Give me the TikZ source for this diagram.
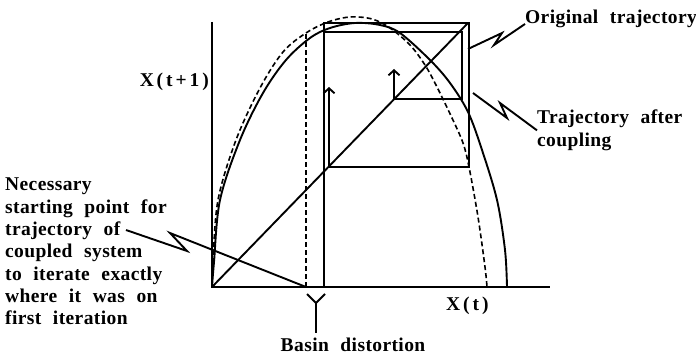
\documentclass[tikz,border=0pt]{standalone}
\usepackage{fontspec}
\setmainfont{Liberation Serif}
\newfontfamily\notefont[LetterSpace=2,WordSpace=2.2]{Liberation Serif}
\newfontfamily\axisfont[LetterSpace=15]{Liberation Serif}
\usetikzlibrary{arrows.meta}
\tikzset{
    note/.style={
        font=\notefont\bfseries\fontsize{19.5}{22.3}\selectfont,
        inner sep=0pt,
        align=left
    },
    axislabel/.style={
        font=\axisfont\bfseries\fontsize{19.5}{22}\selectfont,
        inner sep=0pt
    },
    trace/.style={
        line width=1.9pt
    },
    dashtrace/.style={
        line width=1.6pt,
        dash pattern=on 5pt off 3pt
    },
    leader/.style={
        line width=1.9pt,
        line join=miter
    },
    bump/.style={
        line width=1.9pt,
        -{Straight Barb[length=5pt,width=11pt]}
    }
}

\begin{document}
\begin{tikzpicture}[x=1pt,y=-1pt]

    \useasboundingbox (0,0) rectangle (696,355);

    % axes
    \coordinate (origin) at (212,287);
    \coordinate (xend) at (550,287);
    \coordinate (yend) at (212,22);
    \draw[trace] (yend) -- (origin) -- (xend);
    \node[axislabel, anchor=base east] (ylab) at (209,87) {X(t+1)};
    \node[axislabel, anchor=base west] (xlab) at (446,311) {X(t)};

    % maps
    \draw[trace] plot[smooth, tension=0.55] coordinates {(212,287) (214,262) (220,200) (240,140) (263,93) (286,60) (310,38) (330,28) (355,23) (380,25) (400,33) (430,60) (450,83) (468,112) (482,150) (497,200) (505,250) (507,287)};
    \draw[dashtrace] plot[smooth, tension=0.55] coordinates {(212,287) (213,262) (218,200) (236,140) (260,88) (283,52) (306,33) (328,22) (350,17) (372,19) (390,28) (410,45) (425,65) (437,87) (452,118) (463,143) (469,167) (478,217) (485,267) (487,287)};

    % diagonal
    \coordinate (diagtop) at (468,23);
    \draw[trace] (origin) -- (diagtop);

    % trajectories
    \coordinate (start) at (306,287);
    \coordinate (x1) at (324,287);
    \draw[dashtrace] (start) -- (306,33);
    \draw[trace] (x1) -- (324,23) -- (469,23) -- (469,167) -- (329,167);
    \draw[trace] (324,32) -- (462,32) -- (462,99) -- (394,99);
    \draw[bump] (329,167) -- (329,87);
    \draw[bump] (394,99) -- (394,69);

    % notes
    \node[note, anchor=base west] (orig) at (525,24) {Original trajectory};
    \node[note, anchor=north west] (after) at (537,110) {Trajectory after\\coupling};
    \node[note, anchor=north west] (need) at (5,178) {Necessary\\starting point for\\trajectory of\\coupled system\\to iterate exactly\\where it was on\\first iteration};
    \node[note, anchor=base] (basin) at (353,351) {Basin distortion};

    \coordinate (origtip) at (468,49);
    \coordinate (aftertip) at (473,93);
    \coordinate (needtip) at (126,230);
    \draw[leader] (origtip) -- (502,33) -- (494,45) -- (orig.base west);
    \draw[leader] (aftertip) -- (507,118) -- (500,103) -- (after.west);
    \draw[leader] (needtip) -- (187,251) -- (170,233) -- (start);

    % basin mark
    \coordinate (fork) at (316,303);
    \draw[trace] (307,294) -- (fork) -- (325,294);
    \draw[trace] (fork) -- (316,333);

\end{tikzpicture}
\end{document}
